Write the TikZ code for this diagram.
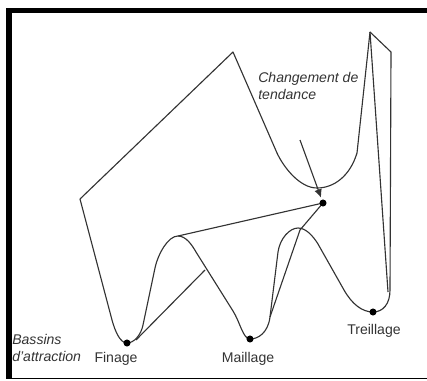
\documentclass[tikz,border=0pt]{standalone}
\usepackage{fontspec}
\setmainfont{Liberation Sans}
\usetikzlibrary{arrows.meta}
\tikzset{>={Latex[length=6pt,width=5.5pt]}}
\tikzset{
    trail/.style={line width=0.8pt, draw=black!80, line join=round},
    well/.style={circle, fill=black, inner sep=0pt, minimum size=5pt},
    lbl/.style={text=black!80, inner sep=0pt, font=\fontsize{10}{12.5}\selectfont},
    note/.style={lbl, font=\fontsize{10}{12.5}\selectfont\itshape, align=left, anchor=west}
}

\begin{document}
\begin{tikzpicture}[x=0.025cm, y=-0.025cm]
    \useasboundingbox (0,0) rectangle (427,381);

    \coordinate (S) at (80,199);
    \coordinate (P) at (233,52);
    \coordinate (Top) at (370,32);
    \coordinate (K) at (391,52);
    \coordinate (R) at (390,290);
    \coordinate (R2) at (388,292);
    \coordinate (U) at (317,188);
    \coordinate (H1) at (178,236);
    \coordinate (H2) at (298,228);
    \coordinate (F) at (127,343);
    \coordinate (M) at (250,339);
    \coordinate (T) at (373,312);
    \coordinate (C) at (323,203);
    \coordinate (Fs) at (136,340);
    \coordinate (Fe) at (205,270);
    \coordinate (Hx) at (300,230);
    \coordinate (Mx) at (270,317);
    \coordinate (A) at (300,140);

    % Frame
    \fill (6,8) rectangle (12,379);
    \fill (6,8) rectangle (427,13);
    \draw[line width=1pt] (6,378.5) -- (427,378.5);

    % Landscape
    \draw[trail] (S) -- (112,320) .. controls (115,331) and (120,343) .. (F)
        .. controls (134,343) and (141,335) .. (143,325) -- (155,268)
        .. controls (158,254) and (168,236) .. (H1)
        .. controls (186,236) and (192,245) .. (196,252) -- (233,311)
        .. controls (240,322) and (243,339) .. (M)
        .. controls (258,339) and (268,333) .. (Mx) -- (278,252)
        .. controls (280,238) and (290,228) .. (H2)
        .. controls (306,228) and (313,236) .. (318,244) -- (344,290)
        .. controls (352,304) and (362,312) .. (T)
        .. controls (383,312) and (390,304) .. (R) -- (K) -- (Top);

    % Upper basin
    \draw[trail] (Top) -- (357,153) .. controls (350,176) and (334,188) .. (U)
        .. controls (300,188) and (284,168) .. (277,153) -- (P) -- (S);
    \draw[trail] (Top) -- (R2);

    % Jumps
    \draw[trail] (Fs) -- (Fe);
    \draw[trail] (H1) -- (C) -- (Hx) -- (Mx);

    % Arrow
    \draw[trail, ->, shorten >=4pt] (A) -- (C);

    % Wells
    \node[well] (dotF) at (F) {};
    \node[well] (dotM) at (M) {};
    \node[well] (dotT) at (T) {};
    \node[well] (dotC) at (C) {};

    % Labels
    \node[note] (change) at (258,86) {Changement de\\tendance};
    \node[note] (basin) at (12,348) {Bassins\\d'attraction};
    \node[lbl] (finage) at (116,359) {Finage};
    \node[lbl] (maillage) at (248,359) {Maillage};
    \node[lbl] (treillage) at (374,331) {Treillage};

\end{tikzpicture}
\end{document}
